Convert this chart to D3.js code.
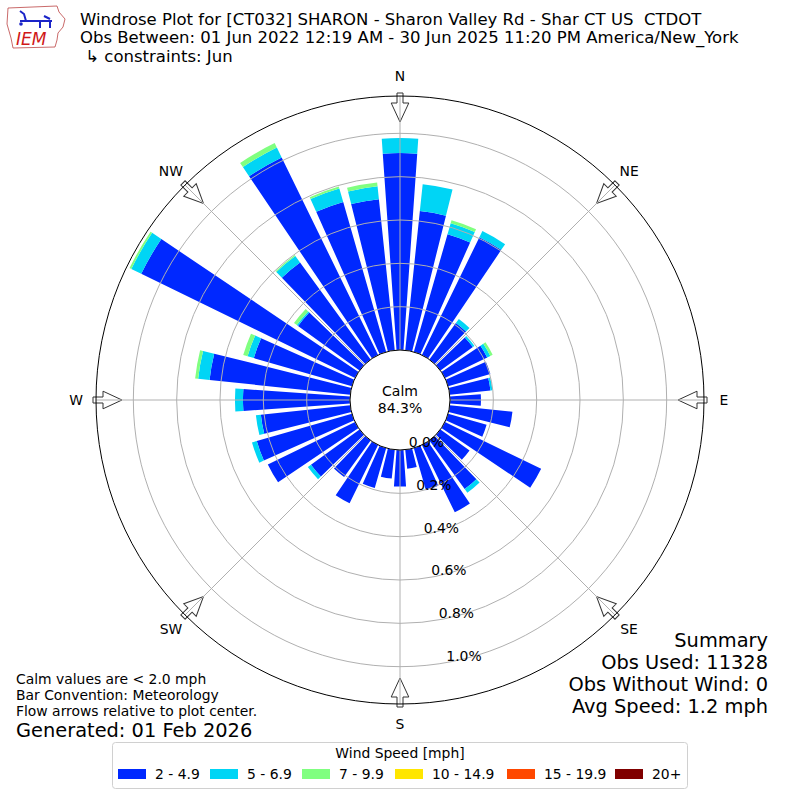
<!DOCTYPE html>
<html>
<head>
<meta charset="utf-8">
<script src="https://cdn.jsdelivr.net/npm/d3@7"></script>
<style>
  body { margin: 0; background: white; }
  text { font-family: "DejaVu Sans", sans-serif; }
</style>
</head>
<body>
<div id="outer"></div>
<script>
////////// DATA //////////
// direction bins (degrees, meteorological: where the wind blows from)
const directions = [0, 10, 20, 30, 40, 50, 60, 70, 80, 90, 100, 110, 120, 130, 140, 150, 160, 170,
	180, 190, 200, 210, 220, 230, 240, 250, 260, 270, 280, 290, 300, 310, 320, 330, 340, 350];

// frequency (%) per direction, one array per speed bin
const spd2to5 = [0.909, 0.646, 0.565, 0.605, 0.208, 0.185, 0.217, 0.203, 0.189, 0.143, 0.291, 0.185,
	0.494, 0.166, 0.277, 0.346, 0.203, 0.088, 0.169, 0.134, 0.192, 0.300, 0.208, 0.277,
	0.448, 0.457, 0.415, 0.494, 0.653, 0.471, 1.098, 0.351, 0.554, 1.015, 0.720, 0.701];
const spd5to7 = [0.069, 0.125, 0.053, 0.032, 0.023, 0.009, 0.016, 0.000, 0.009, 0.000, 0.000, 0.000,
	0.000, 0.000, 0.021, 0.000, 0.000, 0.000, 0.000, 0.000, 0.000, 0.000, 0.000, 0.018,
	0.000, 0.023, 0.023, 0.037, 0.053, 0.030, 0.051, 0.007, 0.037, 0.051, 0.065, 0.060];
const spd7to10 = [0.000, 0.000, 0.014, 0.000, 0.000, 0.000, 0.012, 0.000, 0.000, 0.000, 0.000, 0.000,
	0.000, 0.000, 0.000, 0.000, 0.000, 0.000, 0.000, 0.000, 0.000, 0.000, 0.000, 0.000,
	0.000, 0.000, 0.000, 0.000, 0.014, 0.021, 0.009, 0.016, 0.005, 0.023, 0.009, 0.018];
const spd10to15 = directions.map(() => 0);
const spd15to20 = directions.map(() => 0);
const spd20plus = directions.map(() => 0);

const speedLabels = ['2 - 4.9', '5 - 6.9', '7 - 9.9', '10 - 14.9', '15 - 19.9', '20+'];
const speedColors = ['#0028ff', '#00d5f5', '#80ff80', '#ffe600', '#ff4800', '#800000'];

const ringTicks = [0, 0.2, 0.4, 0.6, 0.8, 1.0];
const compassLabels = ['N', 'NE', 'E', 'SE', 'S', 'SW', 'W', 'NW'];

const titleLines = [
	'Windrose Plot for [CT032] SHARON - Sharon Valley Rd - Shar CT US  CTDOT',
	'Obs Between: 01 Jun 2022 12:19 AM - 30 Jun 2025 11:20 PM America/New_York',
	' \u21b3 constraints: Jun'
];
const calmPct = '84.3%';
const noteLines = ['Calm values are < 2.0 mph', 'Bar Convention: Meteorology', 'Flow arrows relative to plot center.'];
const summaryLines = ['Summary', 'Obs Used: 11328', 'Obs Without Wind: 0', 'Avg Speed: 1.2 mph'];

////////// SIZING //////////
const width = 800, height = 800;
const cx = 400, cy = 400;
const innerR = 50, outerR = 304;
const barHalfWidth = 4; // degrees

const rad = deg => deg * Math.PI / 180;
const r = d3.scaleLinear().domain([0, 1.0]).range([innerR, 266.67]);

const svg = d3.select('#outer').append('svg')
	.attr('width', width)
	.attr('height', height);

////////// TITLE + LOGO //////////
const logo = svg.append('g').attr('class', 'logo');
logo.append('path')
	.attr('d', 'M8,8 L57,6 L59,12 L65,19 L63,27 L58,33 L57,40 L55,47 L13,48 L11,38 L7,24 Z')
	.attr('fill', 'white')
	.attr('stroke', '#b44')
	.attr('stroke-width', 0.8);
logo.append('path')
	.attr('d', 'M20,21 L52,21 M44,16 L50,19 M26,21 L24,14 L20,11 M40,21 L40,28 M50,22 L50,28')
	.attr('stroke', '#1a24c8')
	.attr('stroke-width', 2)
	.attr('fill', 'none');
logo.append('circle').attr('cx', 21).attr('cy', 24).attr('r', 1.8).attr('fill', '#1a24c8');
logo.append('text')
	.attr('x', 16).attr('y', 45)
	.attr('font-family', '"Liberation Serif", serif')
	.attr('font-style', 'italic')
	.attr('font-size', 17)
	.attr('fill', '#d01818')
	.text('IEM');

svg.append('g').selectAll('text')
	.data(titleLines)
	.join('text')
	.attr('x', 80)
	.attr('y', (d, i) => 25 + i * 18.3)
	.attr('font-size', 16.5)
	.style('white-space', 'pre')
	.text(d => d);

////////// ROSE //////////
const rose = svg.append('g').attr('transform', `translate(${cx},${cy})`);

// flow arrows (drawn first, grid and spine go over them)
const arrowPts = [[-3, -307], [3, -307], [3, -297], [8.8, -297], [0, -278], [-8.8, -297], [-3, -297]];
rose.append('g').selectAll('polygon')
	.data(compassLabels)
	.join('polygon')
	.attr('points', arrowPts.map(p => p.join(',')).join(' '))
	.attr('transform', (d, i) => `rotate(${i * 45})`)
	.attr('fill', 'white')
	.attr('stroke', '#333')
	.attr('stroke-width', 1);

// stacked bars
const rows = directions.map((dir, i) => ({
	dir: dir,
	s0: spd2to5[i], s1: spd5to7[i], s2: spd7to10[i],
	s3: spd10to15[i], s4: spd15to20[i], s5: spd20plus[i]
}));
const keys = ['s0', 's1', 's2', 's3', 's4', 's5'];
const stacked = d3.stack().keys(keys)(rows);

const arc = d3.arc()
	.innerRadius(d => r(d[0]))
	.outerRadius(d => r(d[1]))
	.startAngle(d => rad(d.data.dir - barHalfWidth))
	.endAngle(d => rad(d.data.dir + barHalfWidth));

rose.append('g').attr('class', 'bars')
	.selectAll('g')
	.data(stacked)
	.join('g')
	.attr('fill', (d, i) => speedColors[i])
	.selectAll('path')
	.data(d => d.filter(s => s[1] - s[0] > 0))
	.join('path')
	.attr('d', arc);

// grid
const grid = rose.append('g').attr('class', 'grid')
	.attr('fill', 'none')
	.attr('stroke', '#b0b0b0')
	.attr('stroke-width', 1);
grid.selectAll('circle')
	.data(ringTicks)
	.join('circle')
	.attr('r', d => r(d));
grid.selectAll('line')
	.data(compassLabels)
	.join('line')
	.attr('x1', (d, i) => innerR * Math.sin(rad(i * 45)))
	.attr('y1', (d, i) => -innerR * Math.cos(rad(i * 45)))
	.attr('x2', (d, i) => outerR * Math.sin(rad(i * 45)))
	.attr('y2', (d, i) => -outerR * Math.cos(rad(i * 45)));

// spine
rose.append('circle')
	.attr('r', outerR)
	.attr('fill', 'none')
	.attr('stroke', 'black')
	.attr('stroke-width', 1);

// calm circle
rose.append('circle')
	.attr('r', innerR)
	.attr('fill', 'white')
	.attr('stroke', 'black')
	.attr('stroke-width', 1);
rose.append('text').attr('text-anchor', 'middle').attr('y', -4).attr('font-size', 14).text('Calm');
rose.append('text').attr('text-anchor', 'middle').attr('y', 13).attr('font-size', 14).text(calmPct);

// ring labels along bearing 170
const labelBearing = rad(170);
rose.append('g').selectAll('text')
	.data(ringTicks)
	.join('text')
	.attr('x', d => r(d) * Math.sin(labelBearing))
	.attr('y', d => -r(d) * Math.cos(labelBearing) - 2)
	.attr('font-size', 13.9)
	.text(d => d3.format('.1f')(d) + '%');

// compass labels
rose.append('g').selectAll('text')
	.data(compassLabels)
	.join('text')
	.attr('x', (d, i) => 324 * Math.sin(rad(i * 45)))
	.attr('y', (d, i) => -324 * Math.cos(rad(i * 45)))
	.attr('text-anchor', 'middle')
	.attr('dominant-baseline', 'central')
	.attr('font-size', 13.9)
	.text(d => d);

////////// NOTES + SUMMARY //////////
svg.append('g').selectAll('text')
	.data(noteLines)
	.join('text')
	.attr('x', 16)
	.attr('y', (d, i) => 684 + i * 16)
	.attr('font-size', 13.9)
	.text(d => d);
svg.append('text')
	.attr('x', 16).attr('y', 737)
	.attr('font-size', 19.4)
	.text('Generated: 01 Feb 2026');

svg.append('g').selectAll('text')
	.data(summaryLines)
	.join('text')
	.attr('x', 768)
	.attr('y', (d, i) => 647 + i * 22)
	.attr('text-anchor', 'end')
	.attr('font-size', 19.4)
	.text(d => d);

////////// LEGEND //////////
const legend = svg.append('g').attr('class', 'legend');
legend.append('rect')
	.attr('x', 112.5).attr('y', 742.5)
	.attr('width', 575).attr('height', 46)
	.attr('rx', 3)
	.attr('fill', 'white')
	.attr('stroke', '#d0d0d0');
legend.append('text')
	.attr('x', 400).attr('y', 758)
	.attr('text-anchor', 'middle')
	.attr('font-size', 13.9)
	.text('Wind Speed [mph]');
const legendX = [118, 210, 302, 395, 507, 615];
const entry = legend.selectAll('g.entry')
	.data(speedLabels)
	.join('g')
	.attr('class', 'entry')
	.attr('transform', (d, i) => `translate(${legendX[i]},774)`);
entry.append('rect')
	.attr('x', 0).attr('y', -5)
	.attr('width', 28).attr('height', 10)
	.attr('fill', (d, i) => speedColors[i]);
entry.append('text')
	.attr('x', 37).attr('y', 5)
	.attr('font-size', 13.9)
	.text(d => d);
</script>
</body>
</html>
